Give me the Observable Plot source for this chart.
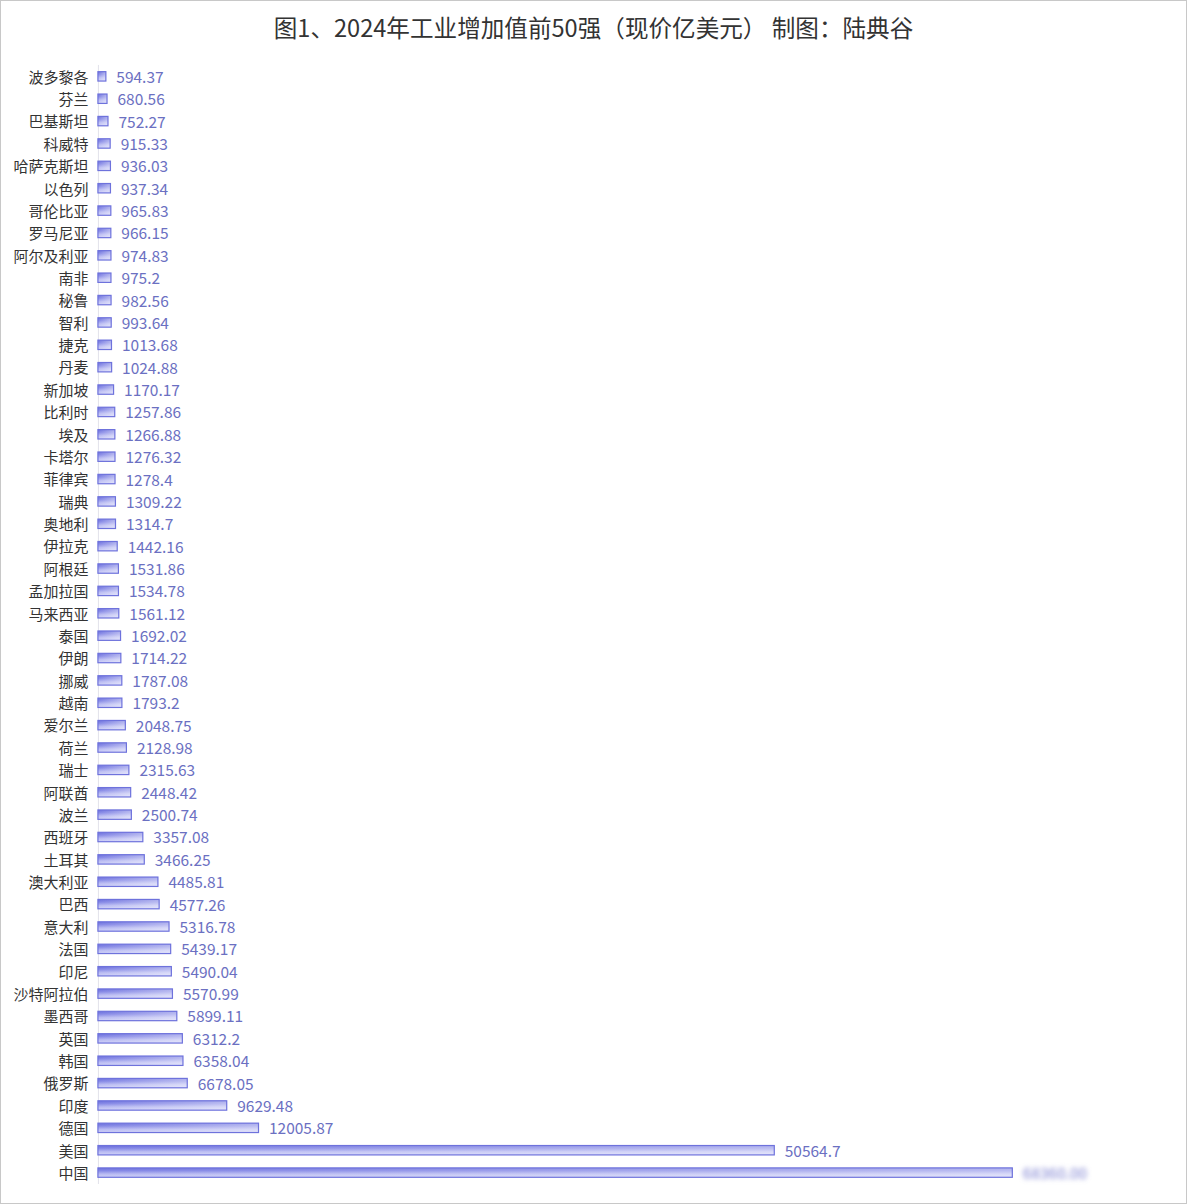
<!DOCTYPE html>
<html>
<head>
<meta charset="utf-8">
<script src="https://cdn.jsdelivr.net/npm/d3@7"></script>
<script src="https://cdn.jsdelivr.net/npm/@observablehq/plot@0.6"></script>
<style>
  html, body { margin: 0; padding: 0; background: #fff; }
  #frame { position: relative; width: 1185px; height: 1202px; border: 1px solid #c8c8c8; overflow: hidden; font-family: "Noto Sans CJK SC", "Noto Sans", sans-serif; }
  #title { position: absolute; left: 0; right: 0; top: 10px; text-align: center; font-size: 23.6px; color: #333; line-height: 32px; }
  #chart { position: absolute; left: -1px; top: -1px; }
</style>
</head>
<body>
<div id="frame">
  <div id="title">图1、2024年工业增加值前50强（现价亿美元） 制图：陆典谷</div>
  <div id="chart"></div>
</div>
<script>
const countries = ["波多黎各","芬兰","巴基斯坦","科威特","哈萨克斯坦","以色列","哥伦比亚","罗马尼亚","阿尔及利亚","南非","秘鲁","智利","捷克","丹麦","新加坡","比利时","埃及","卡塔尔","菲律宾","瑞典","奥地利","伊拉克","阿根廷","孟加拉国","马来西亚","泰国","伊朗","挪威","越南","爱尔兰","荷兰","瑞士","阿联酋","波兰","西班牙","土耳其","澳大利亚","巴西","意大利","法国","印尼","沙特阿拉伯","墨西哥","英国","韩国","俄罗斯","印度","德国","美国","中国"];
const values = [594.37,680.56,752.27,915.33,936.03,937.34,965.83,966.15,974.83,975.2,982.56,993.64,1013.68,1024.88,1170.17,1257.86,1266.88,1276.32,1278.4,1309.22,1314.7,1442.16,1531.86,1534.78,1561.12,1692.02,1714.22,1787.08,1793.2,2048.75,2128.98,2315.63,2448.42,2500.74,3357.08,3466.25,4485.81,4577.26,5316.78,5439.17,5490.04,5570.99,5899.11,6312.2,6358.04,6678.05,9629.48,12005.87,50564.7,68360];
const labels = values.map((v, i) => countries[i] === "中国" ? "68360.00" : String(v));

const data = countries.map((c, i) => ({country: c, value: values[i], label: labels[i]}));

const chart = Plot.plot({
  width: 1187,
  height: 1204,
  marginTop: 65,
  marginBottom: 19,
  marginLeft: 98,
  marginRight: 18,
  style: {fontFamily: "'Noto Sans CJK SC', 'Noto Sans', sans-serif", background: "transparent"},
  x: {domain: [0, 80000], axis: null},
  y: {domain: countries, paddingInner: 0.58, paddingOuter: 0.3, round: false, label: null, axis: null},
  marks: [
    () => {
      const defs = d3.create("svg:defs");
      const gv = defs.append("linearGradient").attr("id", "gv").attr("x1", 0).attr("y1", 0).attr("x2", 0).attr("y2", 1);
      gv.append("stop").attr("offset", "0%").attr("stop-color", "#6a6edc");
      gv.append("stop").attr("offset", "30%").attr("stop-color", "#8588e6");
      gv.append("stop").attr("offset", "65%").attr("stop-color", "#b8baf2");
      gv.append("stop").attr("offset", "100%").attr("stop-color", "#cfd1f7");
      const gh = defs.append("linearGradient").attr("id", "gh").attr("x1", 0).attr("y1", 0).attr("x2", 1).attr("y2", 0);
      gh.append("stop").attr("offset", "0%").attr("stop-color", "#ffffff").attr("stop-opacity", 0);
      gh.append("stop").attr("offset", "100%").attr("stop-color", "#ffffff").attr("stop-opacity", 0.45);
      const f = defs.append("filter").attr("id", "blur").attr("x", "-20%").attr("y", "-50%").attr("width", "140%").attr("height", "200%");
      f.append("feGaussianBlur").attr("stdDeviation", 2.6);
      return defs.node();
    },
    Plot.ruleX([0], {stroke: "#e2e2ea", strokeWidth: 1}),
    Plot.barX(data, {x: "value", y: "country", fill: "url(#gv)"}),
    Plot.barX(data, {x: "value", y: "country", fill: "url(#gh)", stroke: "#6e72dc", strokeWidth: 1.2}),
    Plot.text(data.filter(d => d.country !== "中国"), {x: "value", y: "country", text: "label", textAnchor: "start", dx: 10, dy: 1, fill: "#6b70c2", fontSize: 15.5}),
    Plot.text(data.filter(d => d.country === "中国"), {x: "value", y: "country", text: "label", textAnchor: "start", dx: 10, dy: 1, fill: "#7b7fd0", fontSize: 15.5, className: "blurred"}),
    Plot.axisY({tickSize: 0, tickPadding: 10, dy: 1, fontSize: 15, fill: "#333", label: null})
  ]
});
d3.select(chart).selectAll(".blurred text").attr("filter", "url(#blur)");
document.getElementById("chart").appendChild(chart);
</script>
</body>
</html>
